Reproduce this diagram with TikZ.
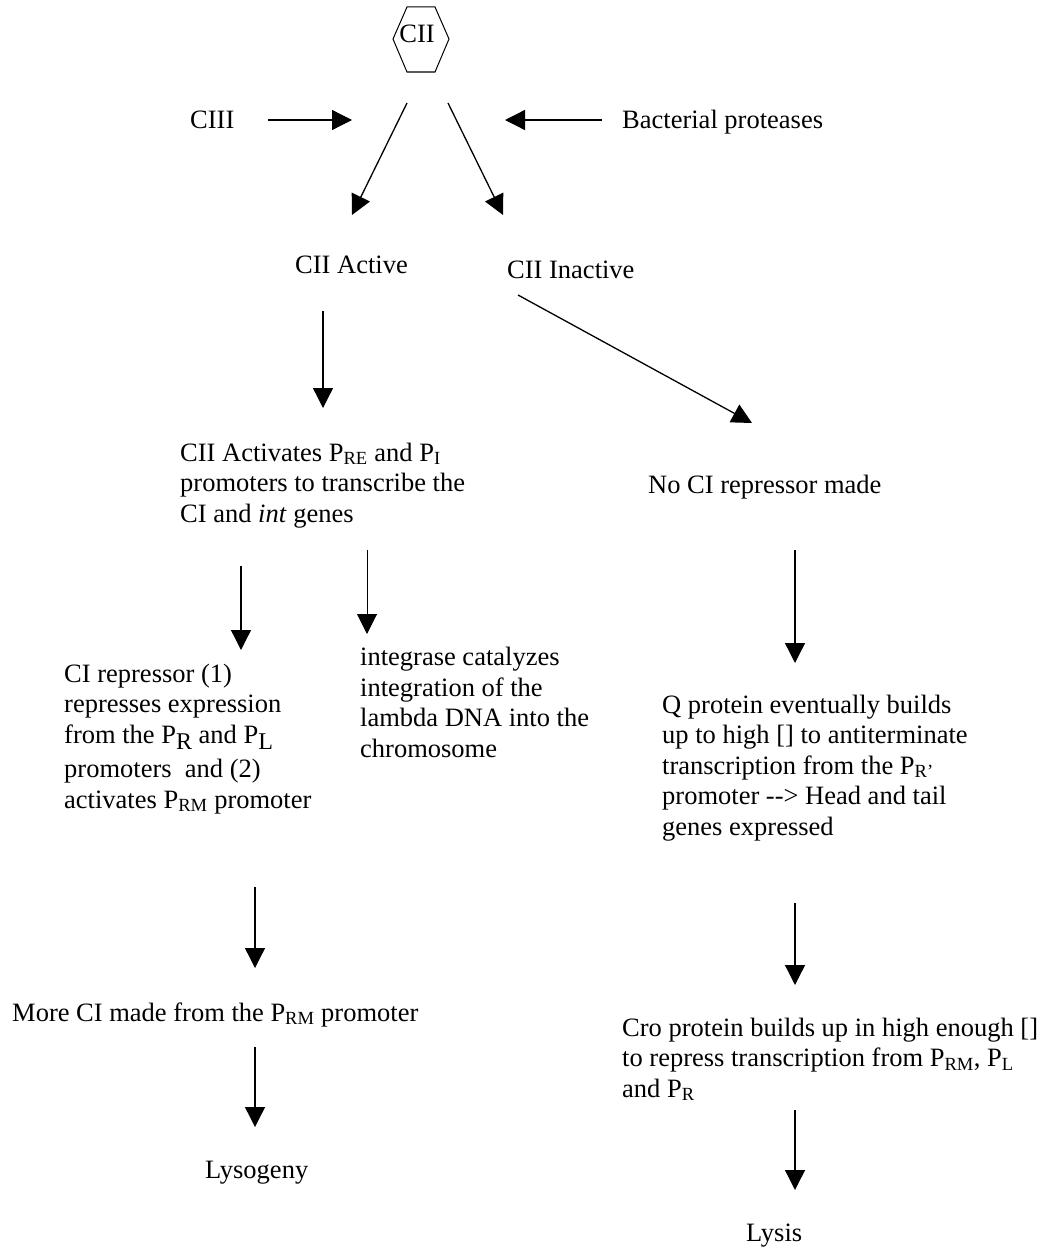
\documentclass[tikz,border=0pt]{standalone}
\usepackage{fontspec}
\setmainfont{Liberation Serif}
\usetikzlibrary{arrows.meta}
\newcommand{\bigsub}[1]{\raisebox{-6pt}{\fontsize{24}{24}\selectfont #1}}

\begin{document}
\begin{tikzpicture}[x=1pt,y=-1pt,
	txt/.style={inner sep=0pt,anchor=base west,align=left,font=\fontsize{26.5}{30.5}\selectfont},
	flow/.style={-{Triangle[length=20pt,width=20pt]},line width=1.3pt}]
	\useasboundingbox (0,0) rectangle (1047,1247);
	\node[txt,anchor=base] (cii) at (417,43) {CII};
	\draw[line width=1pt] (393,39) -- (407,7) -- (435,7) -- (449,39) -- (435,72) -- (407,72) -- cycle;
	\node[txt] (ciii) at (190,128) {CIII};
	\node[txt] (prot) at (622,128) {Bacterial proteases};
	\node[txt] (act) at (295,273) {CII Active};
	\node[txt] (inact) at (507,278) {CII Inactive};
	\node[txt] (genes) at (180,522) {CII Activates P\textsubscript{RE} and P\textsubscript{I}\\promoters to transcribe the\\CI and \textit{int} genes};
	\node[txt] (norep) at (648,493) {No CI repressor made};
	\node[txt] (repr) at (64,808) {CI repressor (1)\\represses expression\\from the P\bigsub{R} and P\bigsub{L}\\[4pt]promoters\ \ and (2)\\activates P\textsubscript{RM} promoter};
	\node[txt] (integ) at (360,757) {integrase catalyzes\\integration of the\\lambda DNA into the\\chromosome};
	\node[txt] (qprot) at (662,835) {Q protein eventually builds\\up to high [] to antiterminate\\transcription from the P\textsubscript{R’}\\promoter -\kern0pt-\kern0pt> Head and tail\\genes expressed};
	\node[txt] (more) at (12,1021) {More CI made from the P\textsubscript{RM} promoter};
	\node[txt] (lysog) at (205,1178) {Lysogeny};
	\node[txt] (cro) at (622,1097) {Cro protein builds up in high enough []\\to repress transcription from P\textsubscript{RM}, P\textsubscript{L}\\and P\textsubscript{R}};
	\node[txt] (lysis) at (746,1241) {Lysis};
	\coordinate (ciii-s) at (268,120); \coordinate (ciii-e) at (352,120);
	\coordinate (prot-s) at (602,120); \coordinate (prot-e) at (505,120);
	\coordinate (act-s) at (407,103); \coordinate (act-e) at (352,215);
	\coordinate (inact-s) at (448,103); \coordinate (inact-e) at (503,215);
	\coordinate (genes-s) at (323,311); \coordinate (genes-e) at (323,408);
	\coordinate (norep-s) at (518,295); \coordinate (norep-e) at (752,423);
	\coordinate (repr-s) at (241,566); \coordinate (repr-e) at (241,650);
	\coordinate (integ-s) at (367,550); \coordinate (integ-e) at (367,634);
	\coordinate (qprot-s) at (795,550); \coordinate (qprot-e) at (795,663);
	\coordinate (more-s) at (255,887); \coordinate (more-e) at (255,968);
	\coordinate (lysog-s) at (255,1047); \coordinate (lysog-e) at (255,1127);
	\coordinate (cro-s) at (795,903); \coordinate (cro-e) at (795,985);
	\coordinate (lysis-s) at (795,1110); \coordinate (lysis-e) at (795,1190);
	\path[flow]
	(ciii-s) edge (ciii-e)
	(prot-s) edge (prot-e)
	(act-s) edge (act-e)
	(inact-s) edge (inact-e)
	(genes-s) edge (genes-e)
	(norep-s) edge (norep-e)
	(repr-s) edge (repr-e)
	(integ-s) edge[line width=1pt] (integ-e)
	(qprot-s) edge (qprot-e)
	(more-s) edge (more-e)
	(lysog-s) edge (lysog-e)
	(cro-s) edge (cro-e)
	(lysis-s) edge (lysis-e);
\end{tikzpicture}
\end{document}
